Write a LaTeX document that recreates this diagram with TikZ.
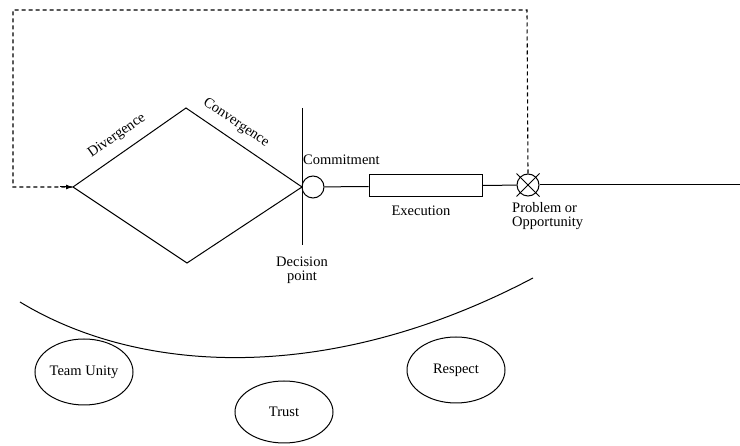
\documentclass[tikz,border=0pt]{standalone}
\usepackage{fontspec}
\setmainfont{Liberation Serif}
\usetikzlibrary{arrows.meta,shapes.geometric,shapes.misc}
\begin{document}
\begin{tikzpicture}[x=1pt,y=-1pt,
  every node/.style={font=\fontsize{14.5}{16}\selectfont},
  ln/.style={line width=1pt},
  dsh/.style={line width=1.1pt,dash pattern=on 4pt off 3pt},
  ell/.style={draw,ellipse,line width=1pt,minimum width=98pt,minimum height=66pt,inner sep=0pt},
  lbl/.style={inner sep=1pt,align=center}]
\useasboundingbox (0,0) rectangle (740,446);
% diamond vertices
\coordinate (dl) at (73,187);
\coordinate (dt) at (186,108);
\coordinate (dr) at (302,187);
\coordinate (db) at (187,263);
\draw[ln] (dl) -- (dt) -- (dr) -- (db) -- cycle;
% decision line
\coordinate (vt) at (302,108);
\coordinate (vb) at (302,245);
\draw[ln] (vt) -- (vb);
% commitment circle
\node[draw,circle,ln,minimum size=22pt,inner sep=0pt] (com) at (313,187) {};
% execution rectangle
\node[draw,rectangle,ln,minimum width=113pt,minimum height=22pt,inner sep=0pt] (exe) at (425.5,186) {};
% problem circle
\node[draw,circle,cross out,ln,minimum size=22pt,inner sep=0pt] (prob) at (528,185) {};
\node[draw,circle,ln,minimum size=22pt,inner sep=0pt] (probc) at (528,185) {};
\coordinate (rend) at (740,185);
\draw[ln] (com) -- (exe);
\draw[ln] (exe) -- (prob);
\draw[ln] (probc.east) -- (rend);
% dashed feedback loop
\coordinate (c1) at (527,10);
\coordinate (c2) at (13,10);
\coordinate (c3) at (13,187);
\draw[dsh] (probc.north) -- (c1) -- (c2) -- (c3) -- (dl);
\draw[-{Latex[length=7pt,width=5pt]},ln] (60,187) -- (dl);
% labels
\node[lbl,rotate=35] (div) at (117,136) {Divergence};
\node[lbl,rotate=-34] (conv) at (236,123) {Convergence};
\node[lbl,anchor=west] (comt) at (302,160) {Commitment};
\node[lbl] (exet) at (421,211) {Execution};
\node[lbl,align=left,anchor=north west] (probt) at (511,201) {Problem or\\[-2pt]Opportunity};
\node[lbl] (dect) at (302,270) {Decision\\[-2pt]point};
% curve
\coordinate (k1) at (20,302);
\coordinate (k2) at (533,278);
\draw[ln] (k1) .. controls (140,375) and (330,385) .. (k2);
% ellipses
\node[ell] (team) at (84,372) {Team Unity};
\node[ell,minimum height=62pt] (trust) at (284,412) {Trust};
\node[ell] (resp) at (456,370) {Respect};
\end{tikzpicture}
\end{document}
